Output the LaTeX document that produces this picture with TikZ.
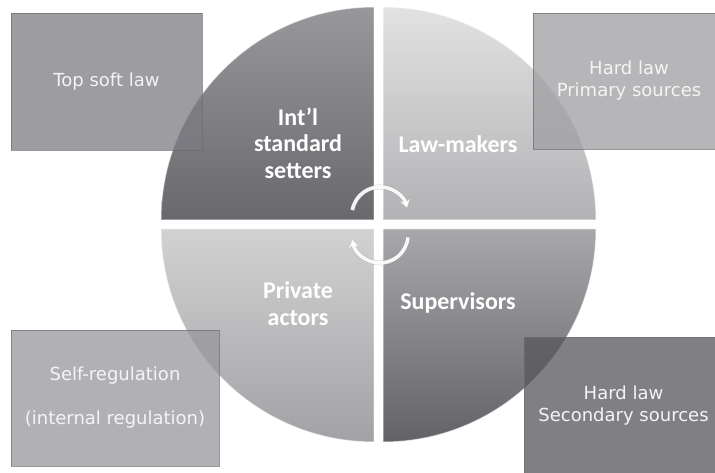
\documentclass[tikz,border=0pt]{standalone}
\usepackage{fontspec}
\setmainfont{DejaVu Sans}
\newfontfamily\labfont{Carlito}
\usetikzlibrary{arrows.meta}
\definecolor{tlTop}{RGB}{152,152,156}
\definecolor{tlBot}{RGB}{104,104,109}
\definecolor{trTop}{RGB}{226,226,226}
\definecolor{trBot}{RGB}{178,178,181}
\definecolor{blTop}{RGB}{210,210,210}
\definecolor{blBot}{RGB}{162,162,166}
\definecolor{brTop}{RGB}{168,168,171}
\definecolor{brBot}{RGB}{98,98,103}
\definecolor{boxA}{RGB}{123,123,129}
\definecolor{boxB}{RGB}{158,158,162}
\definecolor{boxC}{RGB}{151,151,156}
\definecolor{boxD}{RGB}{86,86,91}
\definecolor{boxEdge}{RGB}{110,110,114}
\definecolor{boxText}{RGB}{244,244,244}
\definecolor{arrowEdge}{RGB}{150,150,154}
\begin{document}
\begin{tikzpicture}[x=1pt,y=-1pt,
  quad/.style={draw=white,draw opacity=0.55,line width=1pt},
  infobox/.style={draw=boxEdge,draw opacity=0.7,line width=0.7pt,fill opacity=0.75,text opacity=1,
    text=boxText,align=center,inner sep=0pt,font=\fontsize{18}{22}\selectfont},
  actor/.style={text=white,align=center,font=\labfont\bfseries\fontsize{24}{26.5}\selectfont},
  cyclearrow/.style={draw=white,draw opacity=0.92,line width=3.6pt,-{Stealth[length=8pt,width=10pt]},
    preaction={draw=arrowEdge,draw opacity=0.35,line width=5pt,-{Stealth[length=9pt,width=12pt]}}}]
\useasboundingbox (0,0) rectangle (715,473);
\begin{scope}
\clip (0,0) rectangle (715,473);
% quadrants
\path[quad,top color=tlTop,bottom color=tlBot] (374,220) -- (161,220) arc[start angle=180,end angle=270,radius=213] -- cycle;
\path[quad,top color=trTop,bottom color=trBot] (383,220) -- (383,7) arc[start angle=270,end angle=360,radius=213] -- cycle;
\path[quad,top color=brTop,bottom color=brBot] (383,229) -- (596,229) arc[start angle=0,end angle=90,radius=213] -- cycle;
\path[quad,top color=blTop,bottom color=blBot] (374,229) -- (374,442) arc[start angle=90,end angle=180,radius=213] -- cycle;
% boxes
\node[infobox,fill=boxA,minimum width=191pt,minimum height=137pt] (topsoft) at (106.5,81.5) {Top soft law};
\node[infobox,fill=boxB,minimum width=192pt,minimum height=136pt] (hardprim) at (629,81) {Hard law\\Primary sources};
\node[infobox,fill=boxC,minimum width=208pt,minimum height=136pt] (selfreg) at (115,398) {Self-regulation\\[22pt](internal regulation)};
\node[infobox,fill=boxD,minimum width=199pt,minimum height=137pt] (hardsec) at (623.5,405.5) {Hard law\\Secondary sources};
\end{scope}
% actor labels
\node[actor] (intl) at (298,143) {Int’l\\standard\\setters};
\node[actor] (lawm) at (458,144) {Law-makers};
\node[actor] (priv) at (298,303.5) {Private\\actors};
\node[actor] (superv) at (458,303) {Supervisors};
% cycle arrows
\coordinate (a1) at (352.4,210.1);
\coordinate (a2) at (407.9,237.4);
\draw[cyclearrow] (a1) arc[start angle=190,end angle=345,radius=28];
\draw[cyclearrow] (a2) arc[start angle=5,end angle=170,radius=28];
\end{tikzpicture}
\end{document}
